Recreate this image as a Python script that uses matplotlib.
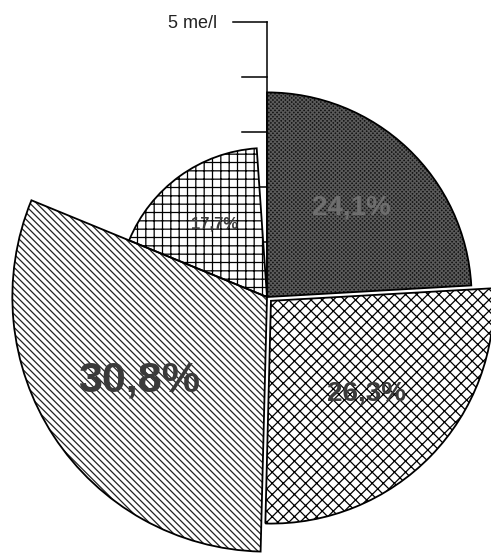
import numpy as np
import matplotlib
matplotlib.use('Agg')
import matplotlib.pyplot as plt
from matplotlib.patches import Wedge

# Share of each ion group (%), angle of the slice follows this
shares = [24.1, 26.3, 30.8, 17.7]
share_labels = ['24,1%', '26,3%', '30,8%', '17,7%']
# Radius of each slice in me/l
radii = [3.72, 4.05, 4.63, 2.71]
# Scale ticks on the vertical axis (me/l)
scale_ticks = [1, 2, 3, 4, 5]
scale_label = '5 me/l'

# Styling per slice
faces = ['#141414', 'white', 'white', 'white']
hatch_colors = ['#5a5a5a', 'black', '#222222', 'black']
hatches = ['xxxxxxxx', 'xxx', '\\\\\\\\\\', '++']
explode = [0.0, 0.1, 0.0, 0.0]
label_sizes = [20, 20, 31, 12]
label_colors = ['#6e6e6e', '#3a3a3a', '#3a3a3a', '#3a3a3a']

plt.rcParams['font.family'] = ['Liberation Sans', 'DejaVu Sans']
plt.rcParams['hatch.linewidth'] = 0.9

W, H = 491, 556
fig = plt.figure(figsize=(W / 100, H / 100), dpi=100)
ax = fig.add_axes([0, 0, 1, 1])

# pixel placement of the centre and pixels per me/l
cx, cy, ppu = 267, 297, 55
ax.set_xlim(-cx / ppu, (W - cx) / ppu)
ax.set_ylim(-(H - cy) / ppu, cy / ppu)
ax.set_aspect('equal')
ax.axis('off')

# vertical scale axis (drawn below the slices)
top = max(scale_ticks)
ax.plot([0, 0], [0, top], color='black', lw=1.1, zorder=1)
for t in scale_ticks:
    tick_len = 0.62 if t == top else 0.45
    ax.plot([-tick_len, 0], [t, t], color='black', lw=1.1, zorder=1)
ax.text(-0.9, top - 0.03, scale_label, ha='right', va='center', fontsize=13, color='#222222')

# slices, clockwise from 12 o'clock
angle = 90.0
for i, (s, r) in enumerate(zip(shares, radii)):
    span = s / 100 * 360
    t1, t2 = angle - span, angle
    mid = np.deg2rad((t1 + t2) / 2)
    c = (explode[i] * np.cos(mid), explode[i] * np.sin(mid))
    w = Wedge(c, r, t1, t2, facecolor=faces[i], edgecolor=hatch_colors[i],
              hatch=hatches[i], lw=0, zorder=2)
    ax.add_patch(w)
    outline = Wedge(c, r, t1, t2, fill=False, edgecolor='black', lw=1.3, zorder=3)
    ax.add_patch(outline)
    lr = 0.6 * r
    ax.text(c[0] + lr * np.cos(mid), c[1] + lr * np.sin(mid), share_labels[i],
            ha='center', va='center', fontsize=label_sizes[i], fontweight='bold',
            color=label_colors[i], zorder=4)
    angle = t1

fig.savefig('out.png', dpi=100, facecolor='white')
